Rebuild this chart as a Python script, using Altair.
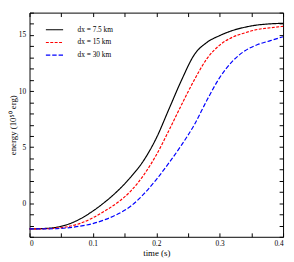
import altair as alt
import pandas as pd

time_s = [0.00, 0.02, 0.04, 0.06, 0.08, 0.10, 0.12, 0.14, 0.16, 0.18, 0.20,
          0.22, 0.24, 0.26, 0.28, 0.30, 0.32, 0.34, 0.36, 0.38, 0.40]
energy_dx7_5 = [-2.30, -2.27, -2.17, -1.90, -1.40, -0.70, 0.15, 1.15, 2.35, 3.80, 5.80,
                8.40, 11.00, 13.25, 14.35, 14.95, 15.40, 15.70, 15.90, 16.00, 16.05]
energy_dx15 = [-2.30, -2.29, -2.24, -2.10, -1.80, -1.30, -0.65, 0.10, 1.10, 2.50, 4.30,
               6.50, 8.80, 11.00, 12.90, 14.10, 14.80, 15.20, 15.50, 15.65, 15.78]
energy_dx30 = [-2.30, -2.30, -2.28, -2.20, -2.05, -1.82, -1.45, -0.95, -0.25, 0.80, 2.10,
               3.60, 5.20, 7.00, 9.20, 11.20, 12.65, 13.60, 14.15, 14.50, 14.85]

series_names = ["dx = 7.5 km", "dx = 15 km", "dx = 30 km"]
series_colors = ["#000000", "#ff0000", "#0000ff"]
series_dashes = [[1, 0], [3, 1.5], [4.5, 2]]

x_tick_values = [0.0, 0.05, 0.1, 0.15, 0.2, 0.25, 0.3, 0.35, 0.4]
x_label_values = [0.0, 0.1, 0.2, 0.3, 0.4]
y_tick_values = [-3, -2, -1, 0, 1, 2, 3, 4, 5, 6, 7, 8, 9, 10, 11, 12, 13, 14, 15, 16, 17]
y_label_values = [0, 5, 10, 15]
x_domain = [0.0, 0.4]
y_domain = [-3, 17]
x_title = "time (s)"
y_title = "energy (10⁵⁰ erg)"

rows = []
for name, vals in zip(series_names, [energy_dx7_5, energy_dx15, energy_dx30]):
    for t, v in zip(time_s, vals):
        rows.append({"series": name, "t": t, "e": v})
df = pd.DataFrame(rows)

W, H = 259, 229
FONT = "Liberation Serif"

xscale = alt.Scale(domain=x_domain, nice=False, zero=False)
yscale = alt.Scale(domain=y_domain, nice=False, zero=False)

legend_kw = dict(title=None, orient="none", legendX=16, legendY=8,
                 symbolType="stroke", symbolSize=310, symbolStrokeWidth=1.2,
                 labelFont=FONT, labelFontSize=7.5, labelColor="black",
                 labelOffset=14, rowPadding=-11, padding=0)

main = alt.Chart(df).mark_line(strokeWidth=1.2, interpolate="monotone").encode(
    x=alt.X("t:Q", scale=xscale, title=x_title,
            axis=alt.Axis(values=x_label_values, ticks=False, tickSize=0, domain=False,
                          grid=False, labelPadding=3, labelFontSize=7.5, labelFont=FONT,
                          labelColor="black", titleFont=FONT, titleFontSize=9,
                          titleFontWeight="normal", titleColor="black", titlePadding=2,
                          format="~g")),
    y=alt.Y("e:Q", scale=yscale, title=y_title,
            axis=alt.Axis(values=y_label_values, ticks=False, tickSize=0, domain=False,
                          grid=False, labelPadding=4, labelFontSize=7.5, labelFont=FONT,
                          labelColor="black", titleFont=FONT, titleFontSize=9,
                          titleFontWeight="normal", titleColor="black", titlePadding=1)),
    color=alt.Color("series:N", scale=alt.Scale(domain=series_names, range=series_colors),
                    legend=alt.Legend(**legend_kw)),
    strokeDash=alt.StrokeDash("series:N",
                              scale=alt.Scale(domain=series_names, range=series_dashes),
                              legend=alt.Legend(**legend_kw)),
)


def tick_layer(xorient, yorient):
    return alt.Chart(df).mark_line(opacity=0).encode(
        x=alt.X("t:Q", scale=xscale, title=None,
                axis=alt.Axis(orient=xorient, offset=-H, values=x_tick_values, labels=False,
                              domain=False, grid=False, tickColor="black", tickWidth=1,
                              tickSize=4)),
        y=alt.Y("e:Q", scale=yscale, title=None,
                axis=alt.Axis(orient=yorient, offset=-W, values=y_tick_values, labels=False,
                              domain=False, grid=False, tickColor="black", tickWidth=1,
                              tickSize=4)),
        detail="series:N",
    )


chart = alt.layer(main, tick_layer("top", "right"), tick_layer("bottom", "left")).resolve_axis(
    x="independent", y="independent"
).properties(
    width=W, height=H, padding={"left": 0, "top": 1, "right": 0, "bottom": 0}
).configure_view(stroke="black", strokeWidth=1)

chart.save("out.html", embed_options={"renderer": "svg", "actions": False})
